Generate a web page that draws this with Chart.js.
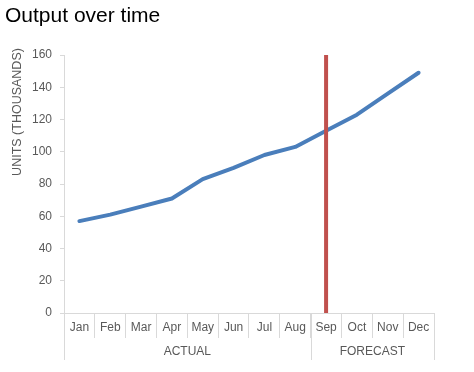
<!DOCTYPE html>
<html>
<head>
<meta charset="utf-8">
<script src="https://cdn.jsdelivr.net/npm/chart.js@4/dist/chart.umd.min.js"></script>
<style>
html,body{margin:0;padding:0;background:#fff;}
#wrap{width:474px;height:372px;position:relative;}
</style>
</head>
<body>
<div id="wrap"><canvas id="c" width="474" height="372"></canvas></div>
<script>
const months = ['Jan','Feb','Mar','Apr','May','Jun','Jul','Aug','Sep','Oct','Nov','Dec'];
const units = [57, 61, 66, 71, 83, 90, 98, 103, 113, 123, 136, 149];
const groupNames = ['ACTUAL', 'FORECAST'];
const groupFirst = ['Jan', 'Sep'];
const groupLast = ['Aug', 'Dec'];
const forecastMonth = 'Sep';
const yTitle = 'UNITS (THOUSANDS)';
const yMin = 0, yMax = 160, yStep = 20;

const GRAY = '#595959';
const LINE_GRAY = '#d9d9d9';
const FONT = 'Arial, "Liberation Sans", sans-serif';
Chart.defaults.font.family = FONT;

const groupPlugin = {
  id: 'groups',
  afterDraw(chart) {
    const x = chart.scales.x;
    const ctx = chart.ctx;
    const half = (x.getPixelForValue(1) - x.getPixelForValue(0)) / 2;
    const top = chart.chartArea.bottom;
    ctx.save();
    ctx.strokeStyle = LINE_GRAY;
    ctx.lineWidth = 1;
    ctx.fillStyle = GRAY;
    ctx.font = '12px ' + FONT;
    ctx.textAlign = 'center';
    ctx.textBaseline = 'middle';
    groupNames.forEach((g, i) => {
      const l = x.getPixelForValue(months.indexOf(groupFirst[i])) - half;
      const r = x.getPixelForValue(months.indexOf(groupLast[i])) + half;
      [l, r].forEach(px => {
        const xx = Math.round(px) + 0.5;
        ctx.beginPath();
        ctx.moveTo(xx, top);
        ctx.lineTo(xx, top + 47);
        ctx.stroke();
      });
      ctx.fillText(g, (l + r) / 2, top + 39);
    });
    // y axis title, placed toward the top of the axis
    ctx.font = '12.5px ' + FONT;
    ctx.translate(17.5, 112);
    ctx.rotate(-Math.PI / 2);
    ctx.fillText(yTitle, 0, 0);
    ctx.restore();
  }
};

new Chart(document.getElementById('c'), {
  type: 'line',
  data: {
    labels: months,
    datasets: [
      {
        data: units,
        borderColor: '#4A7EBB',
        borderWidth: 4,
        pointRadius: 0,
        tension: 0,
        borderCapStyle: 'round',
        borderJoinStyle: 'round',
        order: 2
      },
      {
        data: [{x: forecastMonth, y: yMin}, {x: forecastMonth, y: yMax}],
        borderColor: '#C0504D',
        borderWidth: 4,
        pointRadius: 0,
        order: 1
      }
    ]
  },
  options: {
    responsive: false,
    animation: false,
    layout: { padding: { left: 5, right: 40, top: 0, bottom: 0 } },
    plugins: {
      legend: { display: false },
      tooltip: { enabled: false },
      title: {
        display: true,
        text: 'Output over time',
        align: 'start',
        color: '#000',
        font: { size: 21, weight: 'normal', lineHeight: 1.2 },
        padding: { top: 4, bottom: 25.8 }
      }
    },
    scales: {
      x: {
        type: 'category',
        offset: true,
        grid: { offset: true, drawOnChartArea: false, tickLength: 25, color: LINE_GRAY, tickColor: LINE_GRAY },
        border: { color: LINE_GRAY },
        ticks: { color: GRAY, font: { size: 12 }, padding: -18, maxRotation: 0, autoSkip: false },
        afterFit(s) { s.height = 59; }
      },
      y: {
        min: yMin, max: yMax,
        grid: { drawOnChartArea: false, tickLength: 4, color: LINE_GRAY, tickColor: LINE_GRAY },
        border: { color: LINE_GRAY },
        ticks: { stepSize: yStep, color: GRAY, font: { size: 12 }, padding: 8 },
        afterFit(s) { s.width = 59; }
      }
    }
  },
  plugins: [groupPlugin]
});
</script>
</body>
</html>
